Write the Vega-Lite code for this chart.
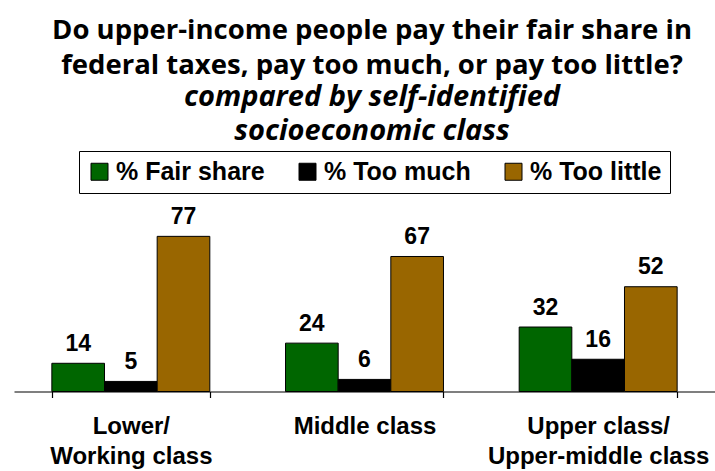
{
  "$schema": "https://vega.github.io/schema/vega-lite/v6.json",
  "autosize": {"type": "none"},
  "padding": {"left": 14, "top": 190, "right": 0, "bottom": 79.5},
  "width": 701,
  "height": 201.5,
  "background": "white",
  "title": {
    "text": ["Do upper-income people pay their fair share in", "federal taxes, pay too much, or pay too little?"],
    "subtitle": ["compared by self-identified", "socioeconomic class"],
    "anchor": "middle",
    "dx": 7.5,
    "offset": 5,
    "font": "Open Sans",
    "fontSize": 27.5,
    "fontWeight": "bold",
    "lineHeight": 35,
    "color": "black",
    "subtitleFont": "Open Sans",
    "subtitleFontSize": 29,
    "subtitleFontWeight": "bold",
    "subtitleFontStyle": "italic",
    "subtitleLineHeight": 34,
    "subtitleColor": "black",
    "subtitlePadding": 3
  },
  "data": {
    "values": [
      {"group": "Lower/|Working class", "answer": "% Fair share", "value": 14},
      {"group": "Lower/|Working class", "answer": "% Too much", "value": 5},
      {"group": "Lower/|Working class", "answer": "% Too little", "value": 77},
      {"group": "Middle class", "answer": "% Fair share", "value": 24},
      {"group": "Middle class", "answer": "% Too much", "value": 6},
      {"group": "Middle class", "answer": "% Too little", "value": 67},
      {"group": "Upper class/|Upper-middle class", "answer": "% Fair share", "value": 32},
      {"group": "Upper class/|Upper-middle class", "answer": "% Too much", "value": 16},
      {"group": "Upper class/|Upper-middle class", "answer": "% Too little", "value": 52}
    ]
  },
  "encoding": {
    "x": {
      "field": "group",
      "type": "nominal",
      "sort": null,
      "scale": {"paddingInner": 0.324, "paddingOuter": 0.162},
      "axis": {
        "title": null,
        "labelAngle": 0,
        "labelExpr": "datum.value ? split(datum.value, '|') : ''",
        "labelFont": "Liberation Sans",
        "labelFontWeight": "bold",
        "labelFontSize": 24,
        "labelLineHeight": 30,
        "labelColor": "black",
        "labelPadding": 17,
        "ticks": true,
        "tickBand": "extent",
        "tickColor": "black",
        "tickSize": 6,
        "tickWidth": 1.2,
        "domainColor": "black",
        "domainWidth": 1.2,
        "labelLimit": 0
      }
    },
    "xOffset": {"field": "answer", "type": "nominal", "sort": ["% Fair share", "% Too much", "% Too little"]},
    "y": {
      "field": "value",
      "type": "quantitative",
      "scale": {"domain": [0, 100]},
      "axis": null
    }
  },
  "layer": [
    {
      "mark": {"type": "bar", "stroke": "black", "strokeWidth": 1},
      "encoding": {
        "color": {
          "field": "answer",
          "type": "nominal",
          "sort": ["% Fair share", "% Too much", "% Too little"],
          "scale": {"domain": ["% Fair share", "% Too much", "% Too little"], "range": ["#006600", "#000000", "#996600"]},
          "legend": {
            "title": null,
            "orient": "none",
            "legendX": 65,
            "legendY": -39,
            "direction": "horizontal",
            "padding": 8,
            "strokeColor": "black",
            "fillColor": "white",
            "symbolType": "square",
            "symbolSize": 289,
            "symbolStrokeColor": "black",
            "symbolStrokeWidth": 1,
            "symbolOpacity": 1,
            "labelFont": "Liberation Sans",
            "labelFontWeight": "bold",
            "labelFontSize": 25,
            "labelColor": "black",
            "labelOffset": 4,
            "columnPadding": 30,
            "labelLimit": 0
          }
        }
      }
    },
    {
      "mark": {"type": "text", "baseline": "alphabetic", "dy": -12.5, "font": "Liberation Sans", "fontWeight": "bold", "fontSize": 23, "color": "black"},
      "encoding": {
        "text": {"field": "value", "type": "quantitative"}
      }
    }
  ],
  "config": {"view": {"stroke": null}}
}
